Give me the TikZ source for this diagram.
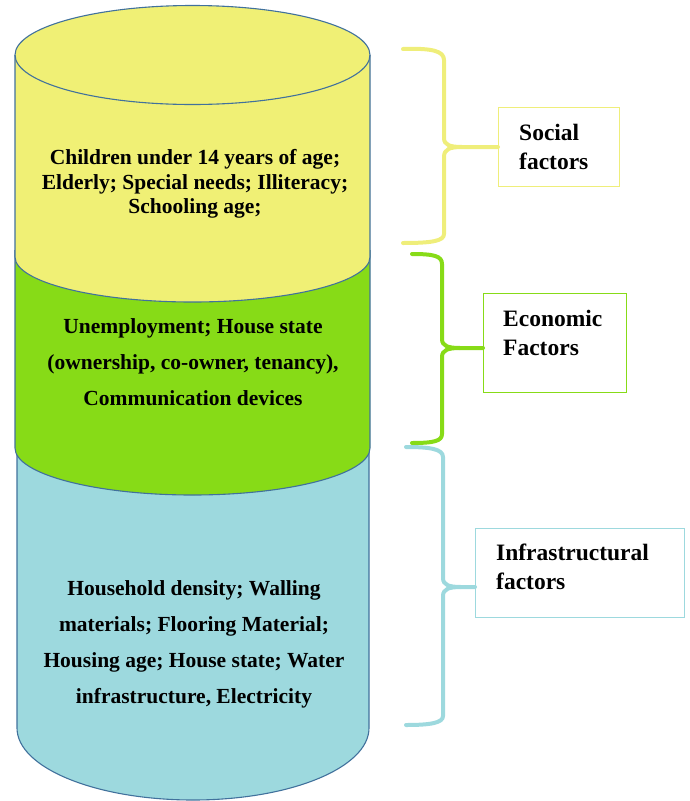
\documentclass[tikz,border=0pt]{standalone}
\usepackage{fontspec}
\setmainfont{Liberation Serif}
\definecolor{cylyellow}{HTML}{F0F075}
\definecolor{cylgreen}{HTML}{87DB17}
\definecolor{cylblue}{HTML}{9DD9DE}
\definecolor{rim}{HTML}{41719C}
\definecolor{braceyellow}{HTML}{EFEE7A}
\begin{document}
\begin{tikzpicture}[x=1pt,y=-1pt,
  rimline/.style={draw=rim,line width=1.1pt},
  bodytext/.style={align=center,font=\bfseries\fontsize{21.5}{36}\selectfont,inner sep=0pt},
  labeltext/.style={align=left,font=\bfseries\fontsize{23.5}{28.5}\selectfont,inner sep=0pt,anchor=north west},
  labelbox/.style={draw=#1,line width=1pt,inner sep=0pt,anchor=north west},
  bracepath/.style={draw=#1,line width=4pt,line cap=round,line join=round}]
\useasboundingbox (0,0) rectangle (689,801);
% blue cylinder section
\path[fill=cylblue] (17,440) -- (17,728) arc[start angle=180,end angle=0,x radius=176,y radius=72] -- (369,440) -- cycle;
\draw[rimline] (17,440) -- (17,728) arc[start angle=180,end angle=0,x radius=176,y radius=72] -- (369,440);
% green cylinder section
\path[fill=cylgreen] (15,250) -- (15,448) arc[start angle=180,end angle=0,x radius=177.5,y radius=47] -- (370,250) -- cycle;
\draw[rimline] (15,250) -- (15,448) arc[start angle=180,end angle=0,x radius=177.5,y radius=47] -- (370,250);
% yellow cylinder section
\path[fill=cylyellow] (15,55) -- (15,257) arc[start angle=180,end angle=0,x radius=177.5,y radius=45] -- (370,55) arc[start angle=0,end angle=-180,x radius=177.5,y radius=49.5] -- cycle;
\draw[rimline] (15,55) -- (15,257) arc[start angle=180,end angle=0,x radius=177.5,y radius=45] -- (370,55);
\draw[rimline] (192.5,55) ellipse[x radius=177.5,y radius=49.5];
% texts in cylinder
\node[bodytext,font=\bfseries\fontsize{21.5}{24.5}\selectfont] (ytext) at (195,184) {Children under 14 years of age;\\Elderly; Special needs; Illiteracy;\\Schooling age;};
\node[bodytext] (gtext) at (193,362) {Unemployment; House state\\(ownership, co-owner, tenancy),\\Communication devices};
\node[bodytext] (btext) at (194,644) {Household density; Walling\\materials; Flooring Material;\\Housing age; House state; Water\\infrastructure, Electricity};
% label boxes
\node[labelbox=braceyellow,minimum width=121pt,minimum height=79pt] (sbox) at (498,107) {};
\node[labeltext] (stext) at (519,124) {Social\\factors};
\node[labelbox=cylgreen,minimum width=143pt,minimum height=99pt] (ebox) at (483,293) {};
\node[labeltext] (etext) at (503,310) {Economic\\Factors};
\node[labelbox=cylblue,minimum width=209pt,minimum height=89pt] (ibox) at (475,528) {};
\node[labeltext] (itext) at (496,544) {Infrastructural\\factors};
% braces
\coordinate (stip) at (462,147);
\coordinate (etip) at (460,348);
\coordinate (itip) at (461,587);
\draw[bracepath=braceyellow] (403,49) .. controls (432,48) and (444,51) .. (444,60) -- (444,138) .. controls (444,145) and (450,147) .. (stip) -- (stip -| sbox.west);
\draw[bracepath=braceyellow] (stip) .. controls (450,147) and (444,149) .. (444,157) -- (444,234) .. controls (444,241) and (432,243) .. (403,243);
\draw[bracepath=cylgreen] (412,254) .. controls (434,254) and (442,256) .. (442,264) -- (442,339) .. controls (442,346) and (448,348) .. (etip) -- (etip -| ebox.west);
\draw[bracepath=cylgreen] (etip) .. controls (448,348) and (442,350) .. (442,357) -- (442,434) .. controls (442,441) and (434,443) .. (412,443);
\draw[bracepath=cylblue] (406,447) .. controls (430,447) and (443,449) .. (443,457) -- (443,578) .. controls (443,585) and (449,587) .. (itip) -- (itip -| ibox.west);
\draw[bracepath=cylblue] (itip) .. controls (449,587) and (443,589) .. (443,596) -- (443,716) .. controls (443,723) and (430,725) .. (406,725);
\end{tikzpicture}
\end{document}
